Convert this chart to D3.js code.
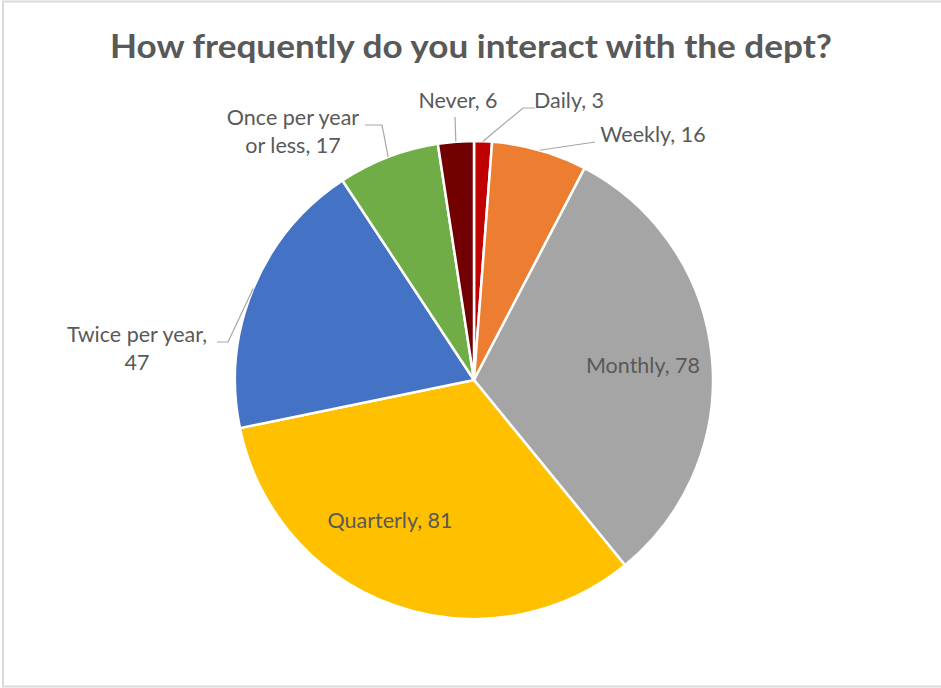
<!DOCTYPE html>
<html>
<head>
<meta charset="utf-8">
<script src="https://cdn.jsdelivr.net/npm/d3@7"></script>
<style>
  html, body { margin: 0; padding: 0; background: #fff; }
  svg { display: block; }
  text { font-family: Lato, "Open Sans", sans-serif; fill: #595959; }
</style>
</head>
<body>
<svg id="chart" width="941" height="688"></svg>
<script>
// Survey responses, in clockwise order starting at 12 o'clock
const categories = ["Daily", "Weekly", "Monthly", "Quarterly", "Twice per year", "Once per year or less", "Never"];
const counts = [3, 16, 78, 81, 47, 17, 6];
const sliceColors = ["#c00000", "#ed7d31", "#a5a5a5", "#ffc000", "#4472c4", "#70ad47", "#720000"];
const chartTitle = "How frequently do you interact with the dept?";

// Label layout: text lines, anchor point, and leader-line elbow (no end = label inside slice)
const labelLayout = {
  "Daily":                 { lines: ["Daily, 3"],                     x: 569, y: 108, elbow: [523, 108], end: [535, 108] },
  "Weekly":                { lines: ["Weekly, 16"],                   x: 653, y: 142, elbow: null,       end: [595, 142] },
  "Monthly":               { lines: ["Monthly, 78"],                  x: 643, y: 373 },
  "Quarterly":             { lines: ["Quarterly, 81"],                x: 390, y: 528 },
  "Twice per year":        { lines: ["Twice per year,", "47"],        x: 137, y: 342, elbow: [228, 342], end: [217, 342] },
  "Once per year or less": { lines: ["Once per year", "or less, 17"], x: 293, y: 125, elbow: [382, 125], end: [365, 125] },
  "Never":                 { lines: ["Never, 6"],                     x: 458, y: 108, elbow: null,       end: [455, 117] }
};

const W = 941, H = 688;
const cx = 474, cy = 380, R = 239;

const svg = d3.select("#chart");

// chart frame
svg.append("rect")
  .attr("x", 3).attr("y", 1.5).attr("width", W + 10).attr("height", H - 3)
  .attr("fill", "none").attr("stroke", "#d9d9d9").attr("stroke-width", 2);

svg.append("text")
  .attr("x", 471).attr("y", 58)
  .attr("text-anchor", "middle")
  .attr("font-size", 33).attr("font-weight", 700)
  .attr("textLength", 722).attr("lengthAdjust", "spacingAndGlyphs")
  .text(chartTitle);

const data = categories.map((c, i) => ({ category: c, value: counts[i], color: sliceColors[i] }));

const pie = d3.pie().sort(null).value(d => d.value);
const arc = d3.arc().innerRadius(0).outerRadius(R);
const arcs = pie(data);

const g = svg.append("g").attr("transform", `translate(${cx},${cy})`);

g.selectAll("path.slice")
  .data(arcs)
  .join("path")
  .attr("class", "slice")
  .attr("d", arc)
  .attr("fill", d => d.data.color)
  .attr("stroke", "#fff")
  .attr("stroke-width", 2.5)
  .attr("stroke-linejoin", "round");

// leader lines from the slice's outer edge to the label
const fontSize = 21.5;
const lineGap = 28;
arcs.forEach(d => {
  const L = labelLayout[d.data.category];
  if (!L.end) return;
  const mid = (d.startAngle + d.endAngle) / 2;
  const sx = cx + R * Math.sin(mid), sy = cy - R * Math.cos(mid);
  const pts = [[sx, sy]];
  if (L.elbow) pts.push(L.elbow);
  pts.push(L.end);
  svg.append("path")
    .attr("d", d3.line()(pts))
    .attr("fill", "none")
    .attr("stroke", "#a6a6a6")
    .attr("stroke-width", 1.2);
});

arcs.forEach(d => {
  const L = labelLayout[d.data.category];
  const t = svg.append("text")
    .attr("text-anchor", "middle")
    .attr("font-size", fontSize);
  L.lines.forEach((line, i) => {
    t.append("tspan").attr("x", L.x).attr("y", L.y + i * lineGap).text(line);
  });
});
</script>
</body>
</html>
